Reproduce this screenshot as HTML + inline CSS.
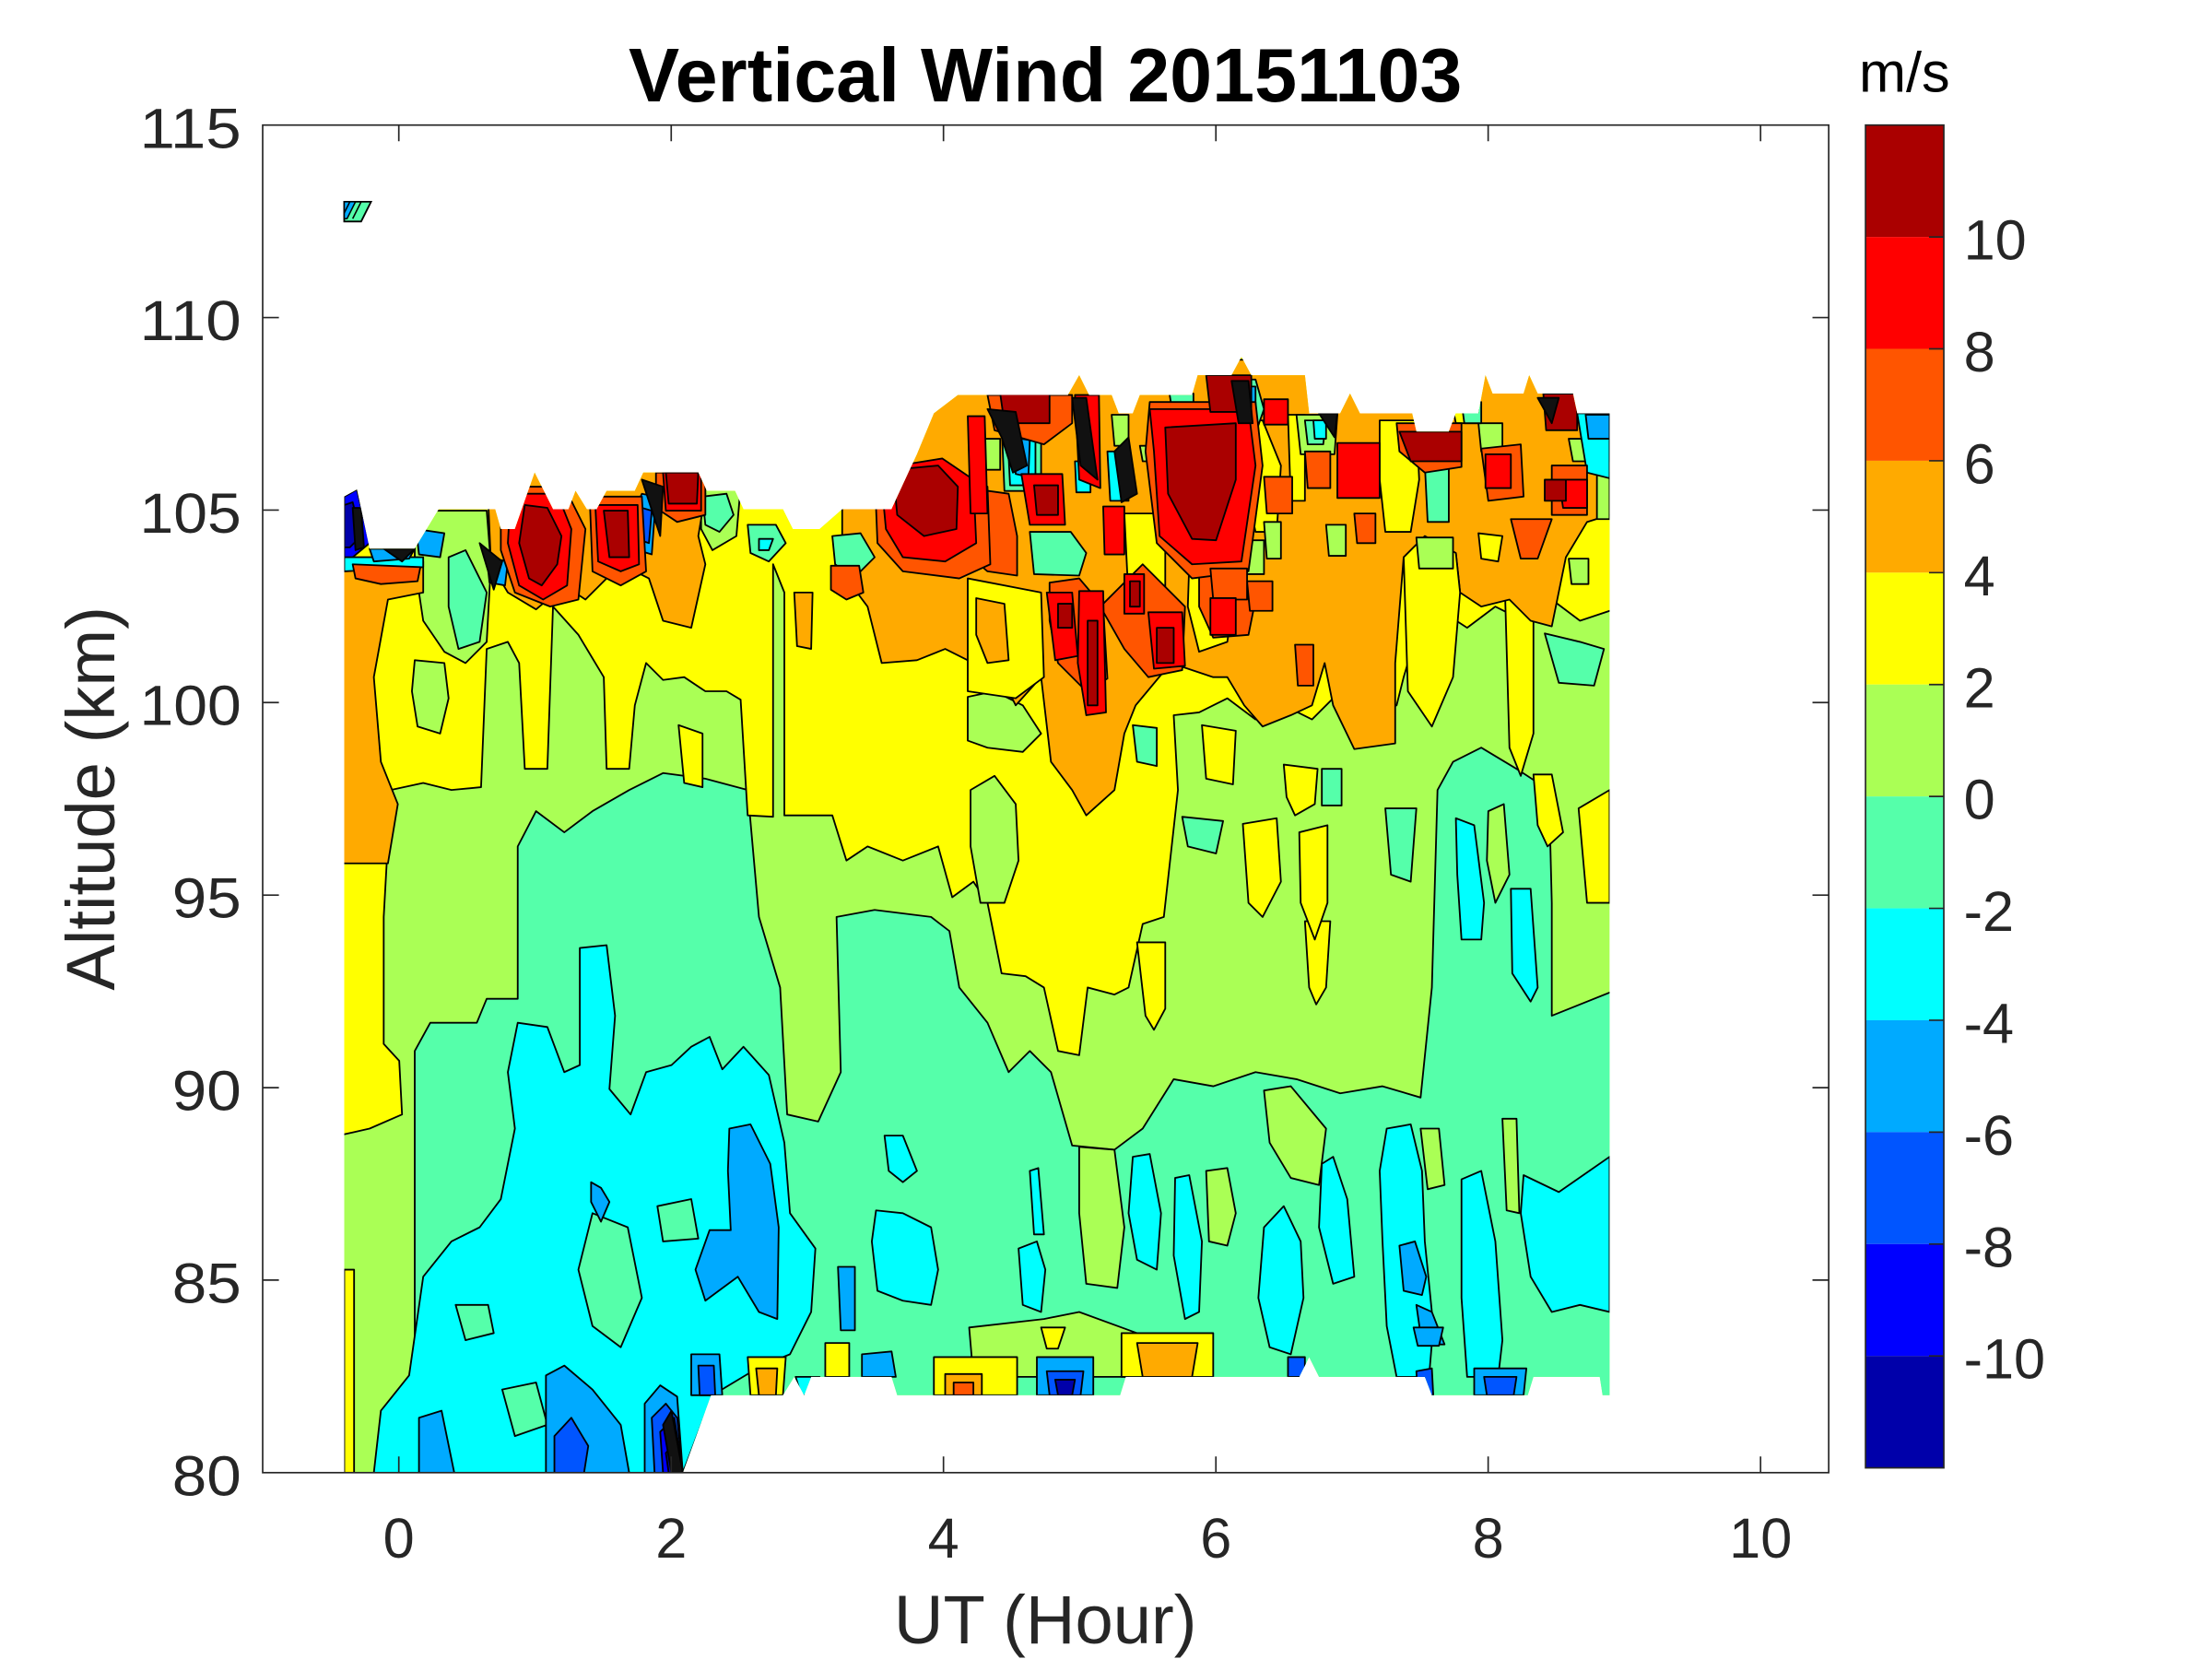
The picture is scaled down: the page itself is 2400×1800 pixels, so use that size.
<!DOCTYPE html>
<html><head><meta charset="utf-8"><style>html,body{margin:0;padding:0;background:#fff}svg{display:block}</style></head>
<body>
<svg width="2400" height="1800" viewBox="0 0 1568 1176" xmlns="http://www.w3.org/2000/svg" font-family="'Liberation Sans', Arial, sans-serif">
<defs>
<clipPath id="d"><path d="M244,1044 L244,352 L253,347 L262,389 L294,389 L311,361 L351,361 L355,375 L365,375 L379,335 L392,361 L403,361 L408,348 L416,361 L423,361 L430,348 L450,348 L456,335 L495,335 L501,348 L521,348 L527,361 L555,361 L562,375 L581,375 L597,361 L632,361 L650,322 L662,293 L679,280 L757,280 L765,266 L772,280 L788,280 L793,293 L803,293 L808,280 L845,280 L849,266 L873,266 L880,253 L887,266 L925,266 L928,293 L950,293 L957,279 L964,293 L1001,293 L1004,306 L1027,306 L1032,293 L1048,293 L1053,266 L1058,279 L1080,279 L1084,266 L1090,279 L1115,279 L1118,293 L1141,293 L1141,989 L1136,989 L1134,976 L1087,976 L1083,989 L1015,989 L1010,976 L935,976 L928,962 L921,976 L798,976 L794,989 L636,989 L632,976 L575,976 L570,989 L563,976 L555,989 L504,989 L484,1044 Z"/></clipPath>
</defs>
<rect width="1568" height="1176" fill="#fff"/>

<g clip-path="url(#d)" stroke="#000" stroke-width="1.2" stroke-linejoin="round">
<rect x="230" y="240" width="930" height="820" fill="#AAFF55" stroke="none"/>

<!-- mint big -->
<polygon fill="#55FFAA" points="294,1050 294,745 305,725 338,725 345,708 367,708 367,600 380,575 400,590 420,575 446,560 470,548 500,552 530,560 538,650 553,700 558,790 580,795 596,760 593,650 620,645 660,650 673,660 680,700 700,725 715,760 730,745 745,760 760,812 790,815 810,800 832,765 860,770 890,760 919,765 950,775 980,770 1007,778 1015,700 1019,560 1030,540 1050,530 1075,545 1098,560 1100,640 1100,720 1150,700 1150,1050"/>
<!-- light green in mint -->
<g fill="#AAFF55">
<polygon points="855,830 870,828 876,860 870,883 857,880"/>
<polygon points="896,773 915,770 940,800 935,840 915,835 900,810"/>
<polygon points="1007,800 1020,800 1024,840 1012,843"/>
<polygon points="1065,793 1075,793 1077,860 1068,858"/>
<polygon points="765,813 790,815 797,870 792,913 770,910 765,860"/>
<polygon points="687,941 740,935 765,930 806,945 800,976 690,976"/>
<polygon points="1055,575 1066,570 1070,620 1060,640 1054,610"/>
</g>
<!-- cyan -->
<g fill="#00FFFF">
<polygon points="367,725 388,728 400,760 411,755 411,672 430,670 436,720 432,772 447,790 458,760 476,755 490,742 503,735 512,758 527,742 545,762 556,810 560,860 578,885 575,930 560,960 540,968 520,980 505,989 484,1044 265,1044 270,1000 290,975 300,905 320,880 340,870 355,850 365,800 360,760"/>
<polygon points="621,858 640,860 660,870 665,900 660,925 640,922 622,915 618,880"/>
<polygon points="627,805 640,805 650,830 640,838 630,830"/>
<polygon points="983,800 1000,797 1008,830 1010,880 1016,940 1013,976 990,976 983,940 980,880 978,830"/>
<polygon points="1036,836 1050,830 1060,880 1065,950 1062,976 1040,976 1036,920"/>
<polygon points="1080,833 1105,845 1141,820 1141,930 1120,925 1100,930 1085,905 1078,860"/>
<polygon points="803,820 815,818 823,860 820,900 806,893 800,860"/>
<polygon points="833,835 843,833 852,880 850,930 840,935 832,890"/>
<polygon points="896,870 910,855 922,880 924,920 915,960 900,955 892,920"/>
<polygon points="937,825 945,820 955,850 960,905 945,910 935,870"/>
<polygon points="722,885 735,880 741,900 738,930 725,925"/>
<polygon points="730,830 736,828 740,875 733,875"/>
<polygon points="1032,580 1045,585 1052,640 1050,666 1036,666 1033,620"/>
<polygon points="1071,630 1085,630 1090,700 1085,710 1072,690"/>
<polygon points="564,976 581,976 576,989 568,989"/>
</g>
<!-- mint holes in cyan -->
<g fill="#55FFAA">
<polygon points="323,925 346,925 350,945 330,950"/>
<polygon points="356,985 380,980 388,1010 365,1018"/>
<polygon points="420,860 445,870 455,920 440,955 420,940 410,900"/>
<polygon points="466,855 490,850 495,878 470,880"/>
</g>
<!-- #00AAFF -->
<g fill="#00AAFF">
<polygon points="517,800 532,797 546,825 552,870 551,935 538,930 523,905 500,922 493,900 503,872 518,872 516,830"/>
<polygon points="419,838 426,842 432,852 426,866 419,852"/>
<polygon points="297,1005 313,1000 322,1044 297,1044"/>
<polygon points="387,975 400,968 420,985 440,1010 446,1044 387,1044"/>
<polygon points="457,995 468,982 480,990 484,1044 457,1044"/>
<polygon points="594,898 606,898 606,943 596,943"/>
<polygon points="611,960 632,958 635,976 611,976"/>
<polygon points="992,883 1003,880 1011,905 1008,918 995,915"/>
<polygon points="1004,925 1015,930 1024,953 1008,953"/>
<polygon points="735,962 775,962 775,989 735,989"/>
<polygon points="490,960 510,960 512,989 490,989"/>
<polygon points="1002,941 1023,941 1020,954 1005,954"/>
<polygon points="1045,970 1082,970 1080,989 1045,989"/>
</g>
<g fill="#0055FF">
<polygon points="393,1018 405,1005 417,1025 414,1044 393,1044"/>
<polygon points="462,1005 472,995 480,1005 484,1044 464,1044"/>
<polygon points="742,972 768,972 766,989 744,989"/>
<polygon points="1004,972 1015,970 1016,989 1005,989"/>
<polygon points="1052,976 1075,976 1073,989 1054,989"/>
<polygon points="495,968 506,968 507,989 496,989"/>
<polygon points="913,962 925,962 925,976 913,976"/>
</g>
<polygon fill="#0000FF" points="468,1015 478,1005 484,1044 470,1044"/>
<polygon fill="#0000AA" points="472,1030 480,1020 484,1044 474,1044"/>
<polygon fill="#0000AA" points="748,978 762,978 760,989 750,989"/>

<!-- bottom warm spots -->
<polygon fill="#FFFF00" points="662,962 721,962 721,989 662,989"/>
<polygon fill="#FFAA00" points="670,974 696,974 696,989 670,989"/>
<polygon fill="#FF5500" points="676,980 690,980 690,989 676,989"/>
<polygon fill="#FFFF00" points="795,945 860,945 860,976 795,976"/>
<polygon fill="#FFAA00" points="806,952 849,952 845,976 810,976"/>
<polygon fill="#FFFF00" points="585,952 602,952 602,976 585,976"/>
<polygon fill="#FFFF00" points="738,941 755,941 750,956 742,956"/>
<polygon fill="#FFFF00" points="530,962 557,962 555,989 532,989"/>
<polygon fill="#FFAA00" points="536,970 551,970 550,989 538,989"/>

<!-- yellow big -->
<polygon fill="#FFFF00" points="240,240 1150,240 1150,430 1120,440 1100,425 1080,440 1060,430 1040,445 1020,432 1007,440 995,480 990,500 970,505 950,490 930,510 910,500 890,510 870,495 850,505 832,507 835,560 825,650 810,655 800,700 790,705 771,700 765,748 750,745 740,700 727,692 710,690 700,640 690,625 675,636 665,600 640,610 615,600 600,610 590,578 556,578 556,420 548,400 548,579 530,578 525,496 515,490 500,490 485,480 470,482 458,470 450,500 446,545 430,545 428,480 410,450 392,430 388,545 372,545 368,470 360,455 345,460 341,558 320,560 300,555 277,560 272,650 272,740 283,752 285,790 262,800 240,805"/>
<polygon fill="#FFFF00" points="244,900 251,900 251,1044 244,1044"/>
<!-- yellow patches in green -->
<g fill="#FFFF00">
<polygon points="481,514 498,520 498,558 485,555"/>
<polygon points="852,514 876,518 874,556 855,552"/>
<polygon points="881,584 905,580 908,625 895,650 885,640"/>
<polygon points="1119,573 1141,560 1141,640 1125,640"/>
<polygon points="806,668 826,668 826,715 818,730 812,720"/>
<polygon points="925,653 943,653 940,700 933,712 928,700"/>
<polygon points="1087,549 1100,549 1108,590 1097,600 1090,585"/>
<polygon points="910,542 934,545 932,570 918,578 912,565"/>
<polygon points="921,590 941,585 941,640 932,666 922,640"/>
<polygon points="1067,425 1087,420 1087,520 1078,550 1070,530"/>
</g>
<!-- light green over yellow -->
<g fill="#AAFF55">
<polygon points="294,362 345,362 348,400 345,455 330,470 315,462 300,440 294,400"/>
<polygon points="294,468 315,470 318,495 312,520 296,515 292,490"/>
<polygon points="686,494 705,490 725,500 738,520 725,533 700,530 686,525"/>
<polygon points="688,560 705,550 720,570 722,610 712,640 695,640 688,600"/>
<polygon points="497,345 525,345 522,380 505,390 497,375"/>
<polygon points="943,414 960,414 958,457 945,455"/>
</g>
<g fill="#55FFAA">
<polygon points="803,514 820,516 820,543 806,540"/>
<polygon points="838,579 867,582 862,605 842,600"/>
<polygon points="937,545 951,545 951,571 937,571"/>
<polygon points="1095,449 1120,455 1137,460 1130,486 1105,484"/>
<polygon points="982,573 1004,573 1000,625 986,620"/>
</g>

<!-- orange -->
<g fill="#FFAA00">
<polygon points="240,398 300,398 300,420 275,425 265,480 270,540 282,570 275,612 240,612"/>
<polygon points="345,330 497,330 500,350 495,380 500,400 490,445 470,440 460,410 440,400 415,425 400,415 380,432 360,420 348,400"/>
<polygon points="597,255 1150,255 1150,365 1141,365 1125,370 1110,395 1100,444 1085,440 1070,425 1050,430 1035,420 1032,392 1010,380 995,395 989,470 989,527 960,531 945,500 939,470 930,500 915,507 895,515 882,500 870,480 860,480 830,470 805,500 797,520 790,560 770,578 760,560 745,540 738,480 720,500 700,460 690,470 670,460 650,468 625,470 615,430 600,410 597,380"/>
<polygon points="563,420 576,420 575,460 565,458"/>
</g>
<!-- yellow holes in orange -->
<g fill="#FFFF00">
<polygon points="843,400 860,395 875,420 870,455 850,462 842,430"/>
<polygon points="881,298 895,298 908,330 905,377 890,377 882,340"/>
<polygon points="978,298 1004,298 1006,340 1000,377 982,377 978,340"/>
<polygon points="913,294 925,294 925,355 915,355"/>
<polygon points="686,410 738,420 740,480 720,495 686,490"/>
<polygon points="797,364 826,364 826,420 812,435 800,425"/>
<polygon points="1010,380 1032,392 1035,420 1030,480 1015,515 998,490 995,395"/>
<polygon points="1048,378 1065,380 1062,398 1050,396"/>
<polygon points="1030,290 1048,290 1048,300 1032,300"/>
</g>
<polygon fill="#FFAA00" points="692,424 712,428 715,468 700,470 692,450"/>
<g fill="#AAFF55">
<polygon points="695,311 709,311 709,333 697,333"/>
<polygon points="788,294 800,294 800,316 790,316"/>
<polygon points="808,316 823,316 823,327 810,327"/>
<polygon points="919,294 948,294 946,322 922,322"/>
<polygon points="1048,300 1065,300 1065,320 1050,320"/>
<polygon points="1112,311 1141,311 1141,327 1115,327"/>
<polygon points="1132,335 1141,335 1141,368 1132,368"/>
<polygon points="896,370 908,370 908,396 898,396"/>
<polygon points="940,372 954,372 954,394 942,394"/>
<polygon points="870,383 896,383 896,407 872,407"/>
<polygon points="1004,381 1030,381 1030,403 1006,403"/>
<polygon points="1112,396 1126,396 1126,414 1114,414"/>
</g>
<g fill="#55FFAA">
<polygon points="318,395 330,390 345,420 340,455 325,460 318,430"/>
<polygon points="498,352 515,350 520,365 510,377 500,372"/>
<polygon points="530,372 550,372 557,385 545,398 532,392"/>
<polygon points="590,380 610,378 620,395 605,410 592,400"/>
<polygon points="1010,329 1027,329 1027,370 1012,370"/>
<polygon points="730,377 759,377 770,392 765,408 733,407"/>
<polygon points="829,279 846,279 846,298 832,298"/>
<polygon points="868,269 890,269 896,290 888,313 874,305"/>
<polygon points="925,298 940,298 938,315 927,315"/>
<polygon points="1036,285 1050,285 1050,300 1038,300"/>
<polygon points="710,300 738,300 738,348 712,348"/>
</g>
<g fill="#00FFFF">
<polygon points="538,382 548,382 545,390 538,390"/>
<polygon points="1118,293 1141,293 1141,339 1125,335"/>
<polygon points="244,395 300,395 300,402 244,405"/>
<polygon points="714,304 734,304 734,344 716,344"/>
<polygon points="762,327 773,327 773,349 763,349"/>
<polygon points="785,320 800,320 800,355 787,355"/>
<polygon points="931,298 940,298 940,311 932,311"/>
</g>
<g fill="#00AAFF">
<polygon points="876,274 890,274 890,298 878,298"/>
<polygon points="718,310 730,312 729,338 720,336"/>
<polygon points="455,350 465,352 462,393 452,390 448,365"/>
<polygon points="1124,294 1141,294 1141,311 1126,311"/>
<polygon points="262,389 294,389 290,396 265,398"/>
<polygon points="295,375 315,378 312,395 297,393"/>
<polygon points="345,395 360,398 358,415 347,413"/>
</g>
<polygon fill="#0055FF" points="455,360 462,362 460,385 454,383"/>
<polygon fill="#0000FF" points="244,352 253,347 262,385 250,395 244,395"/>
<polygon fill="#0000AA" points="244,358 250,356 256,380 248,388 244,388"/>

<!-- dark orange -->
<g fill="#FF5500">
<polygon points="686,346 715,350 721,380 721,408 700,405 686,393"/>
<polygon points="744,413 765,410 782,430 785,481 770,490 750,470 744,440"/>
<polygon points="850,408 875,405 890,425 885,450 860,452 850,430"/>
<polygon points="925,320 943,320 943,346 927,346"/>
<polygon points="896,338 916,338 916,364 898,364"/>
<polygon points="960,364 975,364 975,385 962,385"/>
<polygon points="1071,368 1100,368 1090,396 1078,396"/>
<polygon points="884,412 902,412 902,433 886,433"/>
<polygon points="918,457 931,457 931,486 920,486"/>
<polygon points="990,300 1036,300 1036,331 1010,335 992,320"/>
<polygon points="589,401 609,401 612,420 600,425 589,418"/>
<polygon points="620,335 650,330 700,345 702,400 680,410 640,405 622,385"/>
<polygon points="355,345 400,345 415,375 410,425 390,430 365,420 355,390"/>
<polygon points="418,352 455,352 458,405 440,415 420,405"/>
<polygon points="465,335 500,335 500,365 480,370 465,360"/>
<polygon points="250,400 298,402 296,412 270,414 252,410"/>
<polygon points="1050,318 1078,315 1080,352 1055,355"/>
<polygon points="1100,330 1125,330 1125,365 1100,365"/>
<polygon points="700,280 760,280 760,300 740,315 705,305"/>
<polygon points="780,430 810,400 840,430 838,475 814,480 797,460"/>
<polygon points="815,285 890,285 895,330 885,405 845,410 820,385 812,320"/>
<polygon points="858,403 884,403 884,425 860,425"/>
</g>
<!-- red -->
<g fill="#FF0000">
<polygon points="362,350 395,350 405,375 402,415 385,425 368,415 360,385"/>
<polygon points="422,358 452,358 453,400 440,405 424,398"/>
<polygon points="624,332 668,325 690,340 692,385 670,398 640,395 628,375"/>
<polygon points="686,295 698,295 700,364 688,364"/>
<polygon points="724,336 753,336 755,372 730,372"/>
<polygon points="762,280 779,280 780,346 765,340"/>
<polygon points="782,359 797,359 797,393 783,393"/>
<polygon points="765,419 782,419 784,505 770,507 764,470"/>
<polygon points="797,407 811,407 811,435 797,435"/>
<polygon points="814,434 838,434 840,472 818,474"/>
<polygon points="858,424 876,424 876,450 858,450"/>
<polygon points="948,314 978,314 978,353 948,353"/>
<polygon points="815,290 885,290 890,330 880,398 845,400 822,380 818,320"/>
<polygon points="1053,322 1071,322 1071,346 1053,346"/>
<polygon points="1105,340 1125,340 1125,360 1108,360"/>
<polygon points="896,283 913,283 913,301 896,301"/>
<polygon points="742,420 760,420 764,465 748,468"/>
<polygon points="470,335 497,335 497,362 472,362"/>
</g>
<!-- dark red -->
<g fill="#AA0000">
<polygon points="372,358 388,360 398,380 395,400 384,415 375,410 368,385"/>
<polygon points="428,362 445,362 446,395 432,395"/>
<polygon points="472,335 495,335 494,357 474,357"/>
<polygon points="633,333 665,330 679,345 678,375 655,380 636,365"/>
<polygon points="709,279 744,279 744,300 712,300"/>
<polygon points="733,344 750,344 750,365 735,365"/>
<polygon points="826,303 876,300 876,340 862,383 845,382 828,350"/>
<polygon points="855,266 887,266 887,292 858,292"/>
<polygon points="992,306 1036,306 1036,327 1000,327"/>
<polygon points="1094,279 1118,279 1118,305 1096,305"/>
<polygon points="771,440 778,440 778,500 771,500"/>
<polygon points="750,428 760,428 760,445 750,445"/>
<polygon points="820,445 832,445 832,470 820,470"/>
<polygon points="801,412 808,412 808,430 801,430"/>
<polygon points="1095,340 1110,340 1110,355 1095,355"/>
</g>
<!-- dense contour clusters -->
<g fill="#111">
<polygon points="700,290 720,292 728,330 718,335 710,310"/>
<polygon points="760,282 770,282 778,340 766,330"/>
<polygon points="790,320 800,310 806,350 795,356"/>
<polygon points="873,270 885,270 888,300 878,300"/>
<polygon points="935,293 948,293 946,310"/>
<polygon points="1090,282 1105,282 1100,300"/>
<polygon points="455,340 470,345 468,380"/>
<polygon points="340,385 356,398 350,418"/>
<polygon points="272,389 294,389 285,398"/>
<polygon points="250,360 256,360 258,388 252,390"/>
<polygon points="470,1010 476,1000 484,1044 476,1044"/>
</g>
</g>

<!-- isolated patch near 113 km -->
<polygon points="244,143 263,143 256,157 244,157" fill="#55FFAA" stroke="#000" stroke-width="1.2"/>
<polygon points="244,143 252,143 246,155 244,155" fill="#00AAFF" stroke="#000" stroke-width="1"/>
<line x1="248" y1="143" x2="244" y2="151" stroke="#000" stroke-width="1"/>
<line x1="256" y1="143" x2="250" y2="155" stroke="#000" stroke-width="1"/>

<!-- axes -->
<g stroke="#262626" stroke-width="1.1" fill="none">
<rect x="186.2" y="88.66" width="1110.1" height="955.24"/>
<path d="M282.7,1043.9 v-11.5 M475.8,1043.9 v-11.5 M668.8,1043.9 v-11.5 M861.9,1043.9 v-11.5 M1054.9,1043.9 v-11.5 M1248,1043.9 v-11.5
M282.7,88.66 v11.5 M475.8,88.66 v11.5 M668.8,88.66 v11.5 M861.9,88.66 v11.5 M1054.9,88.66 v11.5 M1248,88.66 v11.5
M186.2,225.1 h11.5 M186.2,361.6 h11.5 M186.2,498 h11.5 M186.2,634.5 h11.5 M186.2,771 h11.5 M186.2,907.4 h11.5
M1296.3,225.1 h-11.5 M1296.3,361.6 h-11.5 M1296.3,498 h-11.5 M1296.3,634.5 h-11.5 M1296.3,771 h-11.5 M1296.3,907.4 h-11.5"/>
</g>

<g font-size="40" fill="#262626" text-anchor="end">
<text x="171" y="104.7" textLength="72" lengthAdjust="spacingAndGlyphs">115</text>
<text x="171" y="241.1" textLength="72" lengthAdjust="spacingAndGlyphs">110</text>
<text x="171" y="377.6" textLength="72" lengthAdjust="spacingAndGlyphs">105</text>
<text x="171" y="514" textLength="72" lengthAdjust="spacingAndGlyphs">100</text>
<text x="171" y="650.5" textLength="49" lengthAdjust="spacingAndGlyphs">95</text>
<text x="171" y="787" textLength="49" lengthAdjust="spacingAndGlyphs">90</text>
<text x="171" y="923.4" textLength="49" lengthAdjust="spacingAndGlyphs">85</text>
<text x="171" y="1059.9" textLength="49" lengthAdjust="spacingAndGlyphs">80</text>
</g>
<g font-size="40" fill="#262626" text-anchor="middle">
<text x="282.7" y="1104">0</text>
<text x="475.8" y="1104">2</text>
<text x="668.8" y="1104">4</text>
<text x="861.9" y="1104">6</text>
<text x="1054.9" y="1104">8</text>
<text x="1248" y="1104">10</text>
</g>
<text x="741" y="72" font-size="54" font-weight="bold" text-anchor="middle" fill="#000">Vertical Wind 20151103</text>
<text x="741" y="1165" font-size="48.5" text-anchor="middle" fill="#262626">UT (Hour)</text>
<text transform="translate(81,566) rotate(-90)" font-size="48.5" text-anchor="middle" fill="#262626">Altitude (km)</text>

<!-- colorbar -->
<g>
<rect x="1322.4" y="88.66" width="55.5" height="79.32" fill="#AA0000"/>
<rect x="1322.4" y="167.98" width="55.5" height="79.32" fill="#FF0000"/>
<rect x="1322.4" y="247.3" width="55.5" height="79.32" fill="#FF5500"/>
<rect x="1322.4" y="326.62" width="55.5" height="79.32" fill="#FFAA00"/>
<rect x="1322.4" y="405.94" width="55.5" height="79.32" fill="#FFFF00"/>
<rect x="1322.4" y="485.26" width="55.5" height="79.32" fill="#AAFF55"/>
<rect x="1322.4" y="564.58" width="55.5" height="79.32" fill="#55FFAA"/>
<rect x="1322.4" y="643.9" width="55.5" height="79.32" fill="#00FFFF"/>
<rect x="1322.4" y="723.22" width="55.5" height="79.32" fill="#00AAFF"/>
<rect x="1322.4" y="802.54" width="55.5" height="79.32" fill="#0055FF"/>
<rect x="1322.4" y="881.86" width="55.5" height="79.32" fill="#0000FF"/>
<rect x="1322.4" y="961.18" width="55.5" height="79.32" fill="#0000AA"/>
<rect x="1322.4" y="88.66" width="55.5" height="951.84" fill="none" stroke="#262626" stroke-width="1.1"/>
<path stroke="#262626" stroke-width="1.1" fill="none" d="M1377.9,167.98 h-10.5 M1377.9,247.3 h-10.5 M1377.9,326.62 h-10.5 M1377.9,405.94 h-10.5 M1377.9,485.26 h-10.5 M1377.9,564.58 h-10.5 M1377.9,643.9 h-10.5 M1377.9,723.22 h-10.5 M1377.9,802.54 h-10.5 M1377.9,881.86 h-10.5 M1377.9,961.18 h-10.5"/>
</g>
<g font-size="40" fill="#262626">
<text x="1392" y="184">10</text>
<text x="1392" y="263.3">8</text>
<text x="1392" y="342.6">6</text>
<text x="1392" y="421.9">4</text>
<text x="1392" y="501.3">2</text>
<text x="1392" y="580.6">0</text>
<text x="1392" y="659.9">-2</text>
<text x="1392" y="739.2">-4</text>
<text x="1392" y="818.5">-6</text>
<text x="1392" y="897.9">-8</text>
<text x="1392" y="977.2">-10</text>
</g>
<text x="1350" y="65" font-size="40" text-anchor="middle" fill="#000">m/s</text>
</svg>
</body></html>
